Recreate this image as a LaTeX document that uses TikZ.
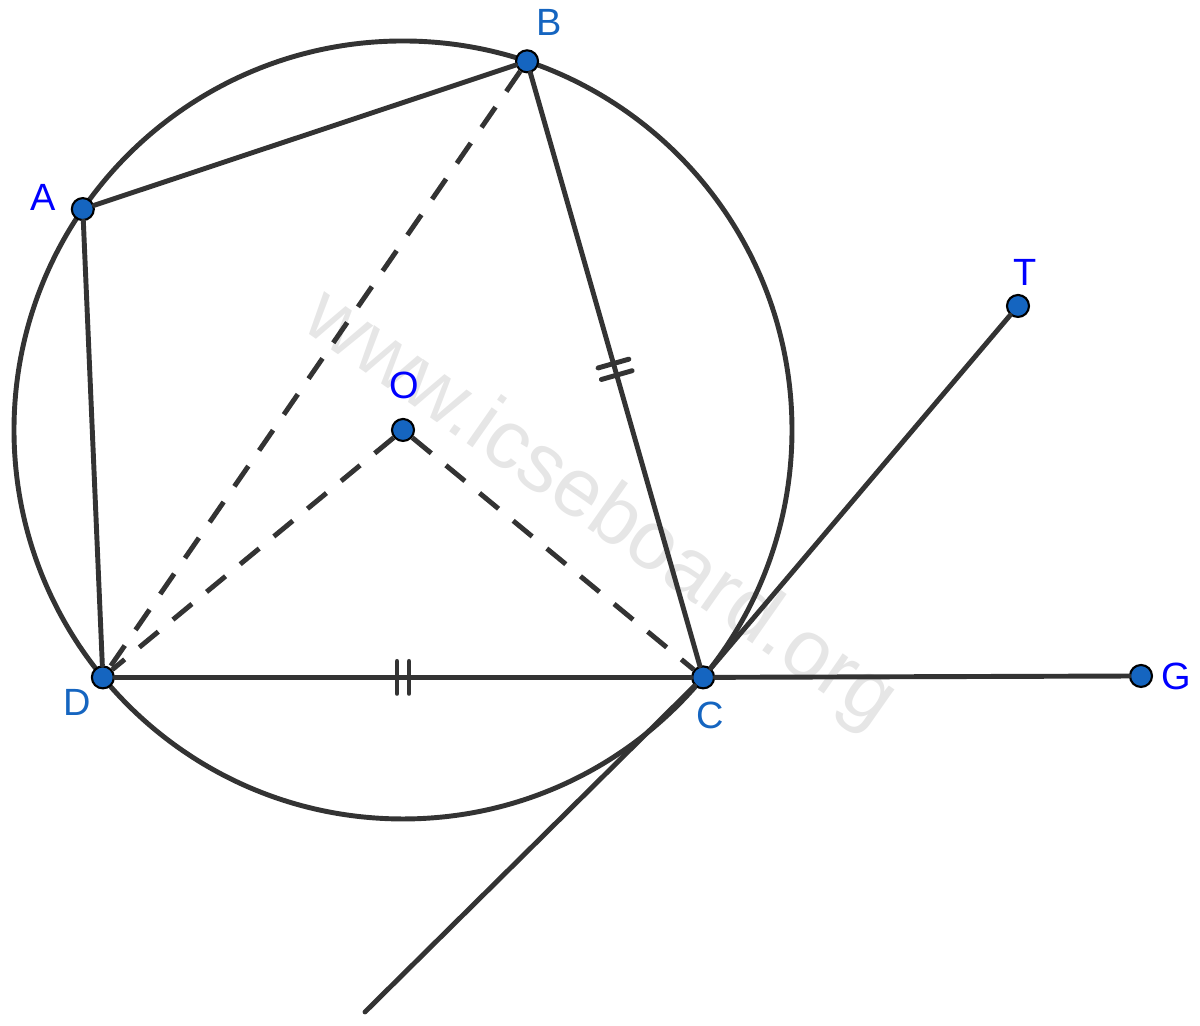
\documentclass[tikz,border=0pt]{standalone}
\usepackage{fontspec}
\setmainfont{Liberation Sans}
\usetikzlibrary{decorations.markings}
\definecolor{segline}{HTML}{333333}
\definecolor{ptfill}{HTML}{1565C0}
\definecolor{lblblue}{HTML}{0000FF}
\definecolor{lbldark}{HTML}{1565C0}
\definecolor{wmark}{HTML}{E6E6E6}
\tikzset{
  seg/.style={draw=segline, line width=1.4pt, line cap=round},
  dseg/.style={seg, line cap=butt, dash pattern=on 7pt off 5.4pt},
  pt/.style={circle, fill=ptfill, draw=black, line width=0.6pt, inner sep=0pt, minimum size=0.22cm},
  lbl/.style={inner sep=0pt, font=\fontsize{10.8}{12}\selectfont, text=lblblue},
  twoticks/.style={postaction={decorate, decoration={markings,
      mark=at position 0.5 with {\draw[seg] (-0.06,-0.16) -- (-0.06,0.16) (0.06,-0.16) -- (0.06,0.16);}}}}
}
\begin{document}
\begin{tikzpicture}
	\useasboundingbox (0,0) rectangle (12,10.26);
	\node[text=wmark, font=\fontsize{23.6}{26}\selectfont, rotate=-35, anchor=base] (wm) at (5.87,4.98) {www.icseboard.org};
	\coordinate (centre) at (4.03,5.96);
	\draw[seg] (centre) circle (3.89);
	\node[pt] (O) at (centre) {};
	\node[pt] (B) at ([shift={(71.4:3.89)}]centre) {};
	\node[pt] (A) at ([shift={(145.4:3.89)}]centre) {};
	\node[pt] (D) at ([shift={(219.5:3.89)}]centre) {};
	\node[pt] (C) at ([shift={(-39.5:3.89)}]centre) {};
	\node[pt] (T) at (10.18,7.20) {};
	\node[pt] (G) at (11.41,3.50) {};
	\coordinate (L) at (3.65,0.14);
	\draw[seg] (A) -- (B);
	\draw[seg, twoticks] (B) -- (C);
	\draw[seg] (A) -- (D);
	\draw[seg, twoticks] (D) -- (C);
	\draw[seg] (C) -- (G);
	\draw[seg] (C) -- (T);
	\draw[seg] (C) -- (L);
	\draw[dseg] (B) -- (D);
	\draw[dseg] (O) -- (D);
	\draw[dseg] (O) -- (C);
	\node[lbl] (labA) at ([shift={(-0.40,0.12)}]A) {A};
	\node[lbl, text=lbldark] (labB) at ([shift={(0.22,0.39)}]B) {B};
	\node[lbl] (labO) at ([shift={(0.01,0.45)}]O) {O};
	\node[lbl] (labT) at ([shift={(0.07,0.34)}]T) {T};
	\node[lbl, text=lbldark] (labD) at ([shift={(-0.26,-0.25)}]D) {D};
	\node[lbl, text=lbldark] (labC) at ([shift={(0.07,-0.38)}]C) {C};
	\node[lbl] (labG) at ([shift={(0.35,0)}]G) {G};
\end{tikzpicture}
\end{document}
